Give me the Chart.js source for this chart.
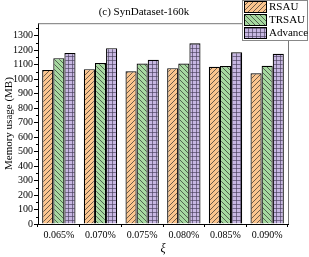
<!DOCTYPE html>
<html lang="en">
<head>
    <meta charset="UTF-8">
    <title>SynDataset-160k</title>
    <script src="https://cdn.jsdelivr.net/npm/chart.js"></script>
    <style>
        body { margin: 0; background: #fff; }
        canvas { display: block; }
    </style>
</head>
<body>
    <canvas id="graficoMemoria" width="309" height="257"></canvas>

<script>
    // dados
    const categorias = ['0.065%', '0.070%', '0.075%', '0.080%', '0.085%', '0.090%'];
    const valoresRSAU = [1063, 1068, 1054, 1075, 1084, 1040];
    const valoresTRSAU = [1144, 1110, 1107, 1107, 1089, 1091];
    const valoresAdvance = [1179, 1213, 1133, 1247, 1185, 1174];
    const ticksY = [0, 100, 200, 300, 400, 500, 600, 700, 800, 900, 1000, 1100, 1200, 1300];

    const fonte = 'Liberation Serif';

    // padroes de preenchimento (hachuras)
    function criarPadrao(fundo, tipo) {
        const s = tipo == 'grade' ? 4 : 5;
        const c = document.createElement('canvas');
        c.width = s;
        c.height = s;
        const g = c.getContext('2d');
        g.fillStyle = fundo;
        g.fillRect(0, 0, s, s);
        g.strokeStyle = 'rgba(40,40,40,0.85)';
        g.lineWidth = 0.8;
        g.beginPath();
        if (tipo == 'barra') {
            g.moveTo(0, s); g.lineTo(s, 0);
            g.moveTo(-1, 1); g.lineTo(1, -1);
            g.moveTo(s - 1, s + 1); g.lineTo(s + 1, s - 1);
        } else if (tipo == 'contra') {
            g.moveTo(0, 0); g.lineTo(s, s);
            g.moveTo(s - 1, -1); g.lineTo(s + 1, 1);
            g.moveTo(-1, s - 1); g.lineTo(1, s + 1);
        } else {
            g.strokeStyle = 'rgba(70,60,90,0.8)';
            g.moveTo(0, 0.5); g.lineTo(s, 0.5);
            g.moveTo(0.5, 0); g.lineTo(0.5, s);
        }
        g.stroke();
        return document.getElementById('graficoMemoria').getContext('2d').createPattern(c, 'repeat');
    }

    const padraoRSAU = criarPadrao('#fbc58e', 'barra');
    const padraoTRSAU = criarPadrao('#a6d9a0', 'contra');
    const padraoAdvance = criarPadrao('#c7b7e2', 'grade');

    // moldura, ticks menores e legenda
    const pluginExtras = {
        id: 'extras',
        afterDraw(chart) {
            const ctx = chart.ctx;
            const area = chart.chartArea;
            const y = chart.scales.y;
            ctx.save();

            // borda superior e direita
            ctx.strokeStyle = '#777';
            ctx.lineWidth = 1;
            ctx.beginPath();
            ctx.moveTo(area.left, area.top + 0.5);
            ctx.lineTo(area.right + 0.5, area.top + 0.5);
            ctx.lineTo(area.right + 0.5, area.bottom);
            ctx.stroke();

            // ticks menores
            ctx.strokeStyle = '#000';
            ctx.beginPath();
            for (let v = 50; v < 1385; v += 100) {
                const py = Math.round(y.getPixelForValue(v)) + 0.5;
                ctx.moveTo(area.left - 2, py);
                ctx.lineTo(area.left, py);
            }
            ctx.stroke();

            // legenda
            const lx = 242.5, ly = 0.5, lw = 65, lh = 40;
            ctx.fillStyle = '#fff';
            ctx.fillRect(lx, ly, lw, lh);
            ctx.strokeStyle = '#888';
            ctx.strokeRect(lx, ly, lw, lh);
            ctx.font = '11px "' + fonte + '"';
            ctx.textBaseline = 'middle';
            chart.data.datasets.forEach(function (ds, i) {
                const sy = 1.5 + i * 13;
                ctx.fillStyle = ds.backgroundColor;
                ctx.fillRect(244.5, sy, 22, 11);
                ctx.strokeStyle = '#000';
                ctx.strokeRect(244.5, sy, 22, 11);
                ctx.fillStyle = '#000';
                ctx.fillText(ds.label, 269, sy + 6);
            });
            ctx.restore();
        }
    };

    const configMemoria = {
        type: 'bar',
        data: {
            labels: categorias,
            datasets: [
                {
                    label: 'RSAU',
                    data: valoresRSAU,
                    backgroundColor: padraoRSAU,
                    borderColor: '#000',
                    borderWidth: 1.2
                },
                {
                    label: 'TRSAU',
                    data: valoresTRSAU,
                    backgroundColor: padraoTRSAU,
                    borderColor: '#000',
                    borderWidth: 1.2
                },
                {
                    label: 'Advance',
                    data: valoresAdvance,
                    backgroundColor: padraoAdvance,
                    borderColor: '#000',
                    borderWidth: 1.2
                }
            ]
        },
        plugins: [pluginExtras],
        options: {
            responsive: false,
            animation: false,
            categoryPercentage: 0.8,
            barPercentage: 1.0,
            layout: {
                padding: { left: 0, right: 21, top: 0, bottom: 0 }
            },
            plugins: {
                legend: { display: false },
                tooltip: { enabled: false },
                title: {
                    display: true,
                    text: '(c) SynDataset-160k',
                    color: '#000',
                    font: { family: fonte, size: 11, weight: 'normal' },
                    padding: { top: 6, bottom: 4 }
                }
            },
            scales: {
                x: {
                    afterFit: function (scale) { scale.height = 33; },
                    grid: {
                        display: true,
                        drawOnChartArea: false,
                        drawTicks: true,
                        tickLength: 3,
                        color: '#000'
                    },
                    border: { display: true, color: '#000', width: 1 },
                    ticks: {
                        color: '#000',
                        padding: 2,
                        maxRotation: 0,
                        font: { family: fonte, size: 10 }
                    },
                    title: {
                        display: true,
                        text: 'ξ',
                        color: '#000',
                        padding: { top: 0, bottom: 1 },
                        font: { family: fonte, size: 12, style: 'italic' }
                    }
                },
                y: {
                    min: 0,
                    max: 1385,
                    afterFit: function (scale) { scale.width = 38; },
                    afterBuildTicks: function (scale) {
                        scale.ticks = ticksY.map(function (v) { return { value: v }; });
                    },
                    grid: {
                        display: true,
                        drawOnChartArea: false,
                        drawTicks: true,
                        tickLength: 4,
                        color: '#000'
                    },
                    border: { display: true, color: '#000', width: 1 },
                    ticks: {
                        color: '#000',
                        padding: 1,
                        font: { family: fonte, size: 10 },
                        callback: function (v) { return String(v); }
                    },
                    title: {
                        display: true,
                        text: 'Memory usage (MB)',
                        color: '#000',
                        padding: { top: 3, bottom: 0 },
                        font: { family: fonte, size: 11 }
                    }
                }
            }
        }
    };

    const GraficoMemoria = new Chart(
        document.getElementById('graficoMemoria'),
        configMemoria
    );
</script>
</body>
</html>
